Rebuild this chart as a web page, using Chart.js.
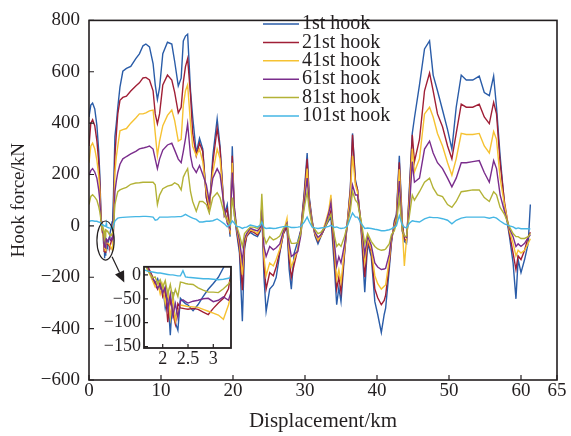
<!DOCTYPE html>
<html>
<head>
<meta charset="utf-8">
<script src="https://cdn.jsdelivr.net/npm/chart.js@4.4.1/dist/chart.umd.min.js"></script>
<style>
    html, body { margin: 0; padding: 0; background: #fff; }
    #wrap { position: relative; width: 571px; height: 436px; }
    #mainChart { position: absolute; left: 0; top: 0; }
    #insetChart { position: absolute; left: 95px; top: 253px; }
</style>
</head>
<body>
<div id="wrap">
    <canvas id="mainChart" width="571" height="436"></canvas>
    <canvas id="insetChart" width="145" height="122"></canvas>
</div>
<script>
// Displacement (km) shared by all hooks
const km = [
    0, 0.25, 0.5, 0.8, 1.1, 1.35, 1.5, 1.65, 1.7, 1.75, 1.8, 1.85, 1.9, 1.95, 2.0, 2.05, 2.1, 2.15, 2.2, 2.25,
    2.3, 2.35, 2.4, 2.45, 2.5, 2.6, 2.7, 2.8, 2.9, 3.0, 3.1, 3.2, 3.3, 3.4, 3.6, 3.8, 4.0, 4.3, 4.7, 5.2,
    5.8, 6.5, 7.0, 7.5, 7.9, 8.4, 8.9, 9.2, 9.5, 9.8, 10.25, 10.9, 11.5, 11.9, 12.4, 12.8, 13.1, 13.4, 13.7, 14.1,
    14.4, 14.9, 15.35, 15.8, 16.3, 16.7, 17.2, 17.8, 18.2, 18.8, 19.2, 19.6, 19.9, 20.2, 20.5, 20.9, 21.3, 21.6, 21.9, 22.4,
    22.9, 23.4, 23.8, 24.0, 24.3, 24.6, 25.1, 25.6, 26.0, 26.5, 27.0, 27.5, 27.8, 28.1, 28.5, 29.0, 29.4, 29.9, 30.3, 30.6,
    31.0, 31.4, 31.8, 32.2, 32.8, 33.3, 33.6, 34.1, 34.4, 34.7, 35.0, 35.5, 35.9, 36.3, 36.6, 37.0, 37.3, 37.8, 38.3, 38.7,
    39.2, 39.7, 40.1, 40.6, 41.0, 41.2, 41.7, 42.0, 42.4, 42.7, 43.1, 43.5, 43.8, 44.1, 44.5, 44.9, 45.2, 45.9, 46.6, 47.3,
    47.8, 48.4, 49.1, 49.8, 50.4, 51.0, 51.7, 52.4, 53.3, 54.2, 54.9, 55.6, 56.2, 56.6, 57.1, 57.7, 58.4, 58.9, 59.3, 59.6,
    60.0, 60.5, 61.0, 61.3
];

// Hook force (kN)
const hook1 = [
    424, 470, 478, 455, 390, 290, 200, 60, 20, 4, -10, -18, -8, -30, -22, -69, -40, -126, -36, -100,
    -116, -49, -55, -60, -63, -75, -62, -45, -30, -18, -5, 15, 40, 120, 348, 400, 462, 540, 602, 613,
    621, 651, 670, 701, 708, 697, 632, 549, 492, 538, 670, 715, 708, 640, 545, 575, 720, 739, 746, 526,
    424, 284, 341, 300, 110, 60, 273, 417, 311, 45, 83, -42, 310, 40, -25, -106, -371, -90, -40, -25,
    -35, -42, -20, 60, -200, -333, -246, -230, -200, -106, -30, -4, -170, -246, -106, -60, -19, 133, 284, 110,
    20, -40, -70, -42, -4, 20, 34, -170, -307, -240, -295, -106, 19, 150, 360, 180, 140, -19, -258, -68,
    -119, -295, -345, -415, -345, -320, -170, -68, 19, 45, 273, 19, -60, -68, 148, 360, 420, 549, 689, 720,
    587, 526, 451, 375, 299, 462, 587, 568, 568, 583, 519, 507, 583, 462, 273, 83, -42, -144, -284, -131,
    -182, -131, -68, 83
];
const hook21 = [
    311, 400, 413, 390, 330, 250, 170, 45, 18, 8, -4, -20, -30, -16, -45, -30, -99, -50, -80, -103,
    -60, -69, -70, -71, -72, -70, -72, -78, -83, -70, -59, -49, -29, 40, 273, 360, 436, 489, 500, 505,
    525, 545, 557, 576, 578, 568, 526, 436, 398, 436, 549, 587, 568, 520, 440, 462, 560, 620, 651, 511,
    360, 273, 322, 290, 110, 60, 246, 380, 300, 40, 65, -30, 273, 60, -15, -90, -250, -80, -40, -20,
    -25, -35, -15, 70, -150, -246, -182, -194, -160, -100, -30, 0, -130, -200, -150, -90, -20, 120, 261, 100,
    15, -35, -60, -40, -5, 30, 60, -130, -246, -200, -258, -100, 20, 140, 355, 170, 140, -10, -200, -60,
    -100, -246, -280, -307, -290, -270, -150, -60, 10, 40, 248, 10, -50, -60, 130, 355, 250, 337, 526, 595,
    526, 436, 386, 311, 261, 360, 474, 462, 462, 474, 424, 398, 481, 436, 246, 95, -30, -106, -170, -117,
    -131, -95, -42, -25
];
const hook41 = [
    246, 310, 322, 300, 255, 195, 135, 35, 12, 0, -12, -25, -15, -40, -20, -60, -35, -90, -45, -96,
    -75, -63, -64, -65, -66, -67, -68, -72, -76, -80, -84, -93, -63, -20, 208, 270, 311, 370, 375, 379,
    400, 420, 436, 436, 440, 448, 451, 360, 273, 330, 390, 430, 451, 410, 330, 337, 470, 526, 549, 398,
    310, 273, 299, 250, 133, 75, 208, 299, 261, 50, 30, -20, 246, 50, -10, -70, -190, -60, -35, -15,
    -20, -30, -10, 80, -120, -194, -144, -156, -130, -90, -25, 30, -100, -160, -130, -90, -30, 100, 223, 90,
    10, -30, -55, -40, 10, 60, 121, -100, -208, -170, -220, -90, 15, 120, 273, 160, 130, 0, -140, -50,
    -90, -194, -225, -246, -235, -230, -130, -50, 0, 30, 220, 0, -156, -50, 100, 300, 210, 261, 436, 462,
    424, 360, 311, 246, 197, 261, 360, 356, 356, 360, 311, 284, 367, 337, 186, 83, -19, -68, -117, -95,
    -106, -95, -68, -50
];
const hook61 = [
    197, 215, 223, 210, 185, 140, 100, 30, 14, 5, -8, -14, -28, -20, -38, -25, -70, -40, -85, -60,
    -89, -55, -52, -56, -59, -55, -53, -50, -49, -56, -53, -46, -53, -20, 133, 175, 208, 240, 261, 270,
    280, 290, 300, 303, 306, 311, 299, 260, 223, 260, 295, 315, 322, 295, 260, 246, 290, 340, 398, 273,
    230, 208, 235, 200, 159, 95, 186, 223, 200, 70, 10, -10, 208, 70, -5, -55, -140, -50, -30, -10,
    -15, -20, -5, 65, -80, -119, -80, -93, -85, -70, -20, 10, -70, -119, -110, -100, -40, 90, 186, 80,
    5, -25, -45, -35, 0, 50, 90, -70, -156, -120, -144, -70, 10, 80, 159, 120, 120, 10, -110, -40,
    -75, -144, -160, -170, -168, -165, -110, -45, -10, 20, 175, -20, -40, -45, 70, 250, 170, 186, 299, 330,
    284, 246, 223, 186, 152, 186, 246, 246, 250, 254, 208, 170, 254, 223, 121, 57, -10, -42, -80, -70,
    -80, -68, -45, -35
];
const hook81 = [
    83, 115, 121, 112, 100, 75, 55, 25, 10, 2, -6, -4, -18, -10, -26, -12, -40, -20, -50, -30,
    -45, -15, -16, -18, -19, -20, -27, -32, -36, -36, -37, -29, -19, -5, 83, 110, 133, 140, 145, 150,
    162, 167, 168, 170, 170, 170, 170, 160, 83, 120, 145, 155, 159, 168, 160, 140, 190, 208, 223, 133,
    95, 57, 95, 95, 83, 50, 110, 129, 110, 45, 20, 0, 110, 40, 0, -35, -80, -30, -20, -5,
    -5, -10, 5, 125, -40, -68, -42, -55, -50, -40, -10, 5, -45, -68, -68, -65, -30, 70, 133, 60,
    0, -15, -30, -25, -5, 30, 45, -40, -80, -70, -80, -40, 5, 60, 133, 100, 90, 20, -70, -30,
    -60, -80, -90, -95, -93, -90, -70, -35, -20, 10, 110, -15, -40, -40, 40, 120, 100, 133, 170, 186,
    148, 121, 114, 83, 72, 95, 133, 136, 140, 140, 110, 95, 133, 121, 72, 45, -4, -30, -42, -42,
    -49, -49, -42, -30
];
const hook101 = [
    15, 20, 20, 18, 18, 15, 14, 10, 8, 7, 6, 5, 4, 4, 3, 2, 1, 0, 0, -1,
    -2, -2, 9, -4, -5, -6, -7, -8, -8, -9, -10, -9, -7, 0, 19, 25, 30, 32, 33, 34,
    35, 36, 36, 37, 37, 36, 34, 22, 24, 34, 34, 34, 35, 35, 36, 36, 40, 45, 40, 34,
    30, 25, 15, 15, 18, 18, 20, 27, 20, 8, -4, 5, 19, 10, -2, -4, -10, -6, -5, 3,
    0, -4, 2, 15, -6, -10, -8, -10, -9, -6, -3, -2, -4, -6, -6, -5, -3, 15, 34, 15,
    -5, -8, -10, -8, -6, -2, 2, -6, -4, -8, -10, -8, 0, 30, 50, 34, 34, 10, -10, -8,
    -10, -13, -15, -19, -19, -18, -15, -12, -5, 0, 40, 5, -5, -8, 10, 20, 18, 15, 27, 34,
    32, 32, 28, 22, 8, 22, 30, 34, 34, 34, 34, 30, 34, 30, 19, 8, 0, -4, -11, -8,
    -11, -11, -11, -12
];

const hookLabels = ['1st hook', '21st hook', '41st hook', '61st hook', '81st hook', '101st hook'];
const hookColors = ['#2a5ca8', '#a01f36', '#f6c232', '#7a2d8c', '#b3b236', '#45b6e4'];
const hookSeries = [hook1, hook21, hook41, hook61, hook81, hook101];

const xTicks = [0, 10, 20, 30, 40, 50, 60, 65];
const yTicks = [-600, -400, -200, 0, 200, 400, 600, 800];
const insetXTicks = [2, 2.5, 3];
const insetYTicks = [-150, -100, -50, 0];

const FONT = "'Liberation Serif', 'Times New Roman', serif";
const INK = '#231f20';

function fmt(v) {
    return v < 0 ? '\u2212' + Math.abs(v) : String(v);
}

function makeDatasets(width) {
    return hookSeries.map((vals, i) => ({
        label: hookLabels[i],
        data: km.map((x, j) => ({ x: x, y: vals[j] })),
        borderColor: hookColors[i],
        borderWidth: width,
        pointRadius: 0,
        tension: 0,
        fill: false,
        order: hookSeries.length - i
    }));
}

// Khung hộp + vạch chia hướng vào trong
function drawFrame(chart, tickLen, lineW) {
    const ctx = chart.ctx;
    const a = chart.chartArea;
    const xs = chart.scales.x, ys = chart.scales.y;
    ctx.save();
    ctx.strokeStyle = INK;
    ctx.lineWidth = lineW;
    ctx.strokeRect(a.left, a.top, a.right - a.left, a.bottom - a.top);
    ctx.lineWidth = 1.2;
    ctx.beginPath();
    xs.ticks.forEach(t => {
        const px = xs.getPixelForValue(t.value);
        ctx.moveTo(px, a.bottom);
        ctx.lineTo(px, a.bottom - tickLen);
    });
    ys.ticks.forEach(t => {
        const py = ys.getPixelForValue(t.value);
        ctx.moveTo(a.left, py);
        ctx.lineTo(a.left + tickLen, py);
    });
    ctx.stroke();
    ctx.restore();
}

const mainDecor = {
    id: 'mainDecor',
    afterDraw(chart) {
        drawFrame(chart, 5, 1.6);
        const ctx = chart.ctx;
        const xs = chart.scales.x, ys = chart.scales.y;

        // Ellipse đánh dấu vùng phóng to
        const cx = xs.getPixelForValue(2.3), cy = ys.getPixelForValue(-57);
        const rx = xs.getPixelForValue(3.5) - cx, ry = ys.getPixelForValue(-133) - cy;
        ctx.save();
        ctx.strokeStyle = INK;
        ctx.lineWidth = 1.2;
        ctx.beginPath();
        ctx.ellipse(cx, cy, rx, ry, 0, 0, Math.PI * 2);
        ctx.stroke();

        // Mũi tên tới hình nhỏ
        const x0 = xs.getPixelForValue(3.2), y0 = ys.getPixelForValue(-120);
        const x1 = xs.getPixelForValue(4.9), y1 = ys.getPixelForValue(-220);
        const ang = Math.atan2(y1 - y0, x1 - x0);
        const hl = 11, hw = 5;
        const bx = x1 - hl * Math.cos(ang), by = y1 - hl * Math.sin(ang);
        ctx.beginPath();
        ctx.moveTo(x0, y0);
        ctx.lineTo(bx, by);
        ctx.stroke();
        ctx.fillStyle = INK;
        ctx.beginPath();
        ctx.moveTo(x1, y1);
        ctx.lineTo(bx + hw * Math.sin(ang), by - hw * Math.cos(ang));
        ctx.lineTo(bx - hw * Math.sin(ang), by + hw * Math.cos(ang));
        ctx.closePath();
        ctx.fill();

        // Chú thích
        ctx.font = '20px ' + FONT;
        ctx.textBaseline = 'middle';
        ctx.textAlign = 'left';
        chart.data.datasets.forEach((ds, i) => {
            const y = 24 + i * 18.4;
            ctx.strokeStyle = ds.borderColor;
            ctx.lineWidth = 1.5;
            ctx.beginPath();
            ctx.moveTo(263, y);
            ctx.lineTo(299, y);
            ctx.stroke();
            ctx.fillStyle = INK;
            ctx.fillText(ds.label, 302, y);
        });
        ctx.restore();
    }
};

const insetDecor = {
    id: 'insetDecor',
    beforeDatasetsDraw(chart) {
        const a = chart.chartArea;
        chart.ctx.save();
        chart.ctx.fillStyle = '#fff';
        chart.ctx.fillRect(a.left, a.top, a.right - a.left, a.bottom - a.top);
        chart.ctx.restore();
    },
    afterDraw(chart) {
        drawFrame(chart, 4, 1.8);
    }
};

new Chart(document.getElementById('mainChart'), {
    type: 'line',
    data: { datasets: makeDatasets(1.4) },
    options: {
        responsive: false,
        animation: false,
        devicePixelRatio: 1,
        layout: { padding: { left: 0, top: 11, right: 14, bottom: 0 } },
        plugins: { legend: { display: false }, tooltip: { enabled: false } },
        scales: {
            x: {
                type: 'linear', min: 0, max: 65,
                afterBuildTicks: s => { s.ticks = xTicks.map(v => ({ value: v })); },
                afterFit: s => { s.height = 56; },
                grid: { display: false, drawTicks: false },
                border: { display: false },
                ticks: { font: { family: FONT, size: 19 }, color: INK, padding: 0, maxRotation: 0, autoSkip: false, callback: v => fmt(v) },
                title: { display: true, text: 'Displacement/km', font: { family: FONT, size: 21 }, color: INK, padding: { top: 0, bottom: 2 } }
            },
            y: {
                type: 'linear', min: -600, max: 800,
                afterBuildTicks: s => { s.ticks = yTicks.map(v => ({ value: v })); },
                afterFit: s => { s.width = 89; },
                grid: { display: false, drawTicks: false },
                border: { display: false },
                ticks: { font: { family: FONT, size: 19 }, color: INK, padding: 9, autoSkip: false, callback: v => fmt(v) },
                title: { display: true, text: 'Hook force/kN', font: { family: FONT, size: 19 }, color: INK, padding: { top: 8, bottom: 0 } }
            }
        }
    },
    plugins: [mainDecor]
});

new Chart(document.getElementById('insetChart'), {
    type: 'line',
    data: { datasets: makeDatasets(1.4) },
    options: {
        responsive: false,
        animation: false,
        devicePixelRatio: 1,
        layout: { padding: { left: 0, top: 10, right: 9, bottom: 0 } },
        plugins: { legend: { display: false }, tooltip: { enabled: false } },
        scales: {
            x: {
                type: 'linear', min: 1.63, max: 3.35,
                afterBuildTicks: s => { s.ticks = insetXTicks.map(v => ({ value: v })); },
                afterFit: s => { s.height = 27; },
                grid: { display: false, drawTicks: false },
                border: { display: false },
                ticks: { font: { family: FONT, size: 18 }, color: INK, padding: 0, maxRotation: 0, autoSkip: false, callback: v => fmt(v) }
            },
            y: {
                type: 'linear', min: -153, max: 17,
                afterBuildTicks: s => { s.ticks = insetYTicks.map(v => ({ value: v })); },
                afterFit: s => { s.width = 49; },
                grid: { display: false, drawTicks: false },
                border: { display: false },
                ticks: { font: { family: FONT, size: 18 }, color: INK, padding: 3, autoSkip: false, callback: v => fmt(v) }
            }
        }
    },
    plugins: [insetDecor]
});
</script>
</body>
</html>
